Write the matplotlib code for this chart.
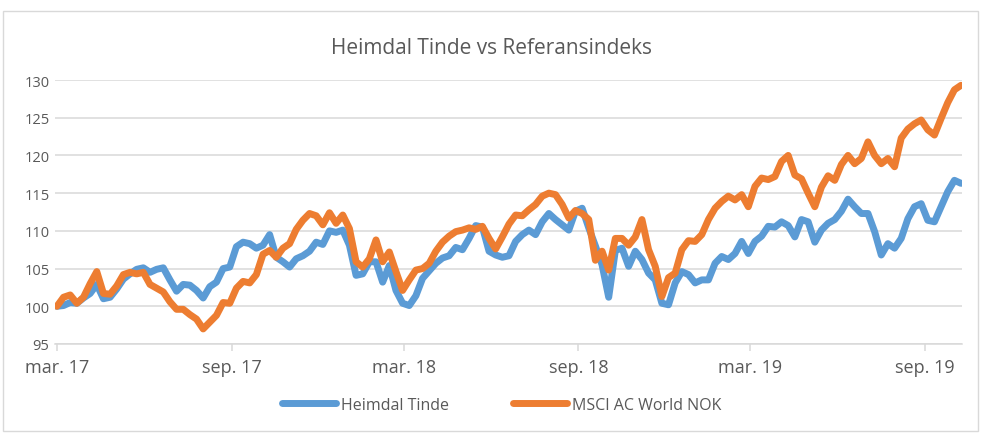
import numpy as np
import pandas as pd
import matplotlib.pyplot as plt
from matplotlib.patches import Rectangle

# ukentlige verdier, indeksert til 100 i mars 2017
datoer = pd.date_range('2017-03-01', periods=137, freq='7D')

heimdal = [
    100.0, 100.1, 100.5, 100.4, 101.1, 101.7, 102.9, 101.0, 101.2, 102.3,
    103.6, 104.3, 104.9, 105.1, 104.5, 104.9, 105.1, 103.5, 102.0, 102.9,
    102.8, 102.1, 101.1, 102.6, 103.2, 105.0, 105.2,
    107.9, 108.5, 108.3, 107.7, 108.1, 109.5, 106.5, 105.9, 105.2, 106.3,
    106.7, 107.3, 108.5, 108.2, 110.0, 109.8, 110.1, 108.1, 104.1, 104.3,
    105.9, 105.9, 103.2, 105.4, 102.1, 100.4, 100.1,
    101.4, 103.7, 104.7, 105.7, 106.4, 106.7, 107.8, 107.5, 109.0, 110.7,
    110.5, 107.3, 106.8, 106.5, 106.7, 108.6, 109.5, 110.1, 109.5, 111.2,
    112.3, 111.5, 110.8, 110.1, 112.6, 113.0, 110.4,
    108.0, 105.5, 101.2, 107.4, 107.7, 105.3, 107.3, 106.2, 104.4, 103.5,
    100.4, 100.2, 103.1, 104.6, 104.2, 103.1, 103.5, 103.5, 105.7, 106.6,
    106.2, 107.0, 108.6, 107.0, 108.6, 109.3, 110.6,
    110.5, 111.2, 110.7, 109.2, 111.5, 111.2, 108.5, 110.1, 111.0, 111.5,
    112.6, 114.2, 113.2, 112.3, 112.3, 109.9, 106.8, 108.3, 107.7, 109.0,
    111.6, 113.2, 113.6, 111.4, 111.2, 113.2, 115.2, 116.7, 116.3,
]

msci = [
    100.0, 101.2, 101.5, 100.4, 101.2, 103.0, 104.6, 101.7, 101.6, 102.7,
    104.2, 104.5, 104.3, 104.5, 102.9, 102.4, 101.9, 100.6, 99.6, 99.6,
    98.9, 98.3, 97.0, 97.9, 98.8, 100.5, 100.4,
    102.4, 103.3, 103.1, 104.2, 106.9, 107.4, 106.5, 107.7, 108.3, 110.2,
    111.4, 112.3, 112.0, 110.8, 112.4, 111.0, 112.1, 110.3, 105.9, 105.2,
    106.3, 108.8, 105.9, 107.2, 104.6, 102.1, 103.5,
    104.8, 105.0, 105.7, 107.3, 108.5, 109.3, 109.9, 110.1, 110.4, 110.2,
    110.6, 109.0, 107.6, 109.2, 110.9, 112.1, 112.0, 112.8, 113.5, 114.6,
    115.0, 114.8, 113.5, 111.7, 112.7, 112.3, 111.5,
    106.1, 107.3, 104.8, 109.0, 109.0, 108.1, 109.2, 111.5, 107.5, 105.3,
    101.3, 103.8, 104.4, 107.5, 108.7, 108.6, 109.5, 111.5, 113.0, 113.9,
    114.6, 114.1, 114.8, 113.2, 115.9, 117.0, 116.8,
    117.2, 119.2, 120.0, 117.4, 116.9, 115.0, 113.2, 115.8, 117.3, 116.7,
    118.8, 120.0, 118.9, 119.6, 121.8, 120.0, 118.9, 119.6, 118.5, 122.3,
    123.5, 124.2, 124.7, 123.4, 122.7, 124.9, 127.0, 128.7, 129.3,
]

tick_datoer = pd.to_datetime(['2017-03-01', '2017-09-01', '2018-03-01',
                              '2018-09-01', '2019-03-01', '2019-09-01'])
tick_tekst = ['mar. 17', 'sep. 17', 'mar. 18', 'sep. 18', 'mar. 19', 'sep. 19']

plt.rcParams['font.family'] = ['Open Sans', 'DejaVu Sans']
grid = '#D9D9D9'
tekst = '#595959'

fig = plt.figure(figsize=(9.83, 4.35), dpi=100)
fig.patches.append(Rectangle((3 / 983, 3 / 435), 975 / 983, 420 / 435,
                             transform=fig.transFigure, fill=False,
                             edgecolor=grid, lw=1))
ax = fig.add_axes([55 / 983, 90 / 435, 907 / 983, 264 / 435])

ax.plot(datoer, heimdal, color='#5B9BD5', lw=5, solid_capstyle='round',
        solid_joinstyle='round', label='Heimdal Tinde')
ax.plot(datoer, msci, color='#ED7D31', lw=5, solid_capstyle='round',
        solid_joinstyle='round', label='MSCI AC World NOK')

ax.set_ylim(95, 130)
ax.set_yticks(np.arange(95, 131, 5))
ax.set_xlim(pd.Timestamp('2017-02-27'), pd.Timestamp('2019-10-10'))
ax.set_xticks(tick_datoer)
ax.set_xticklabels(tick_tekst)

ax.grid(axis='y', color=grid, lw=1.1)
ax.set_axisbelow(True)
for s in ['top', 'right', 'left']:
    ax.spines[s].set_visible(False)
ax.spines['bottom'].set_color(grid)
ax.spines['bottom'].set_linewidth(1.1)
ax.tick_params(axis='y', length=0, labelsize=10.5, labelcolor=tekst, pad=4)
ax.tick_params(axis='x', length=5, color=grid, width=1.1,
               labelsize=13, labelcolor=tekst, pad=5)

fig.text(0.5, 1 - 48 / 435, 'Heimdal Tinde vs Referansindeks',
         ha='center', va='center', fontsize=15, color=tekst)

fig.legend(loc='center', bbox_to_anchor=(0.51, 1 - 406 / 435), ncol=2,
           frameon=False, fontsize=11.5, labelcolor=tekst,
           handlelength=3.4, columnspacing=4, handletextpad=0.3)

fig.savefig('out.png', dpi=100)
